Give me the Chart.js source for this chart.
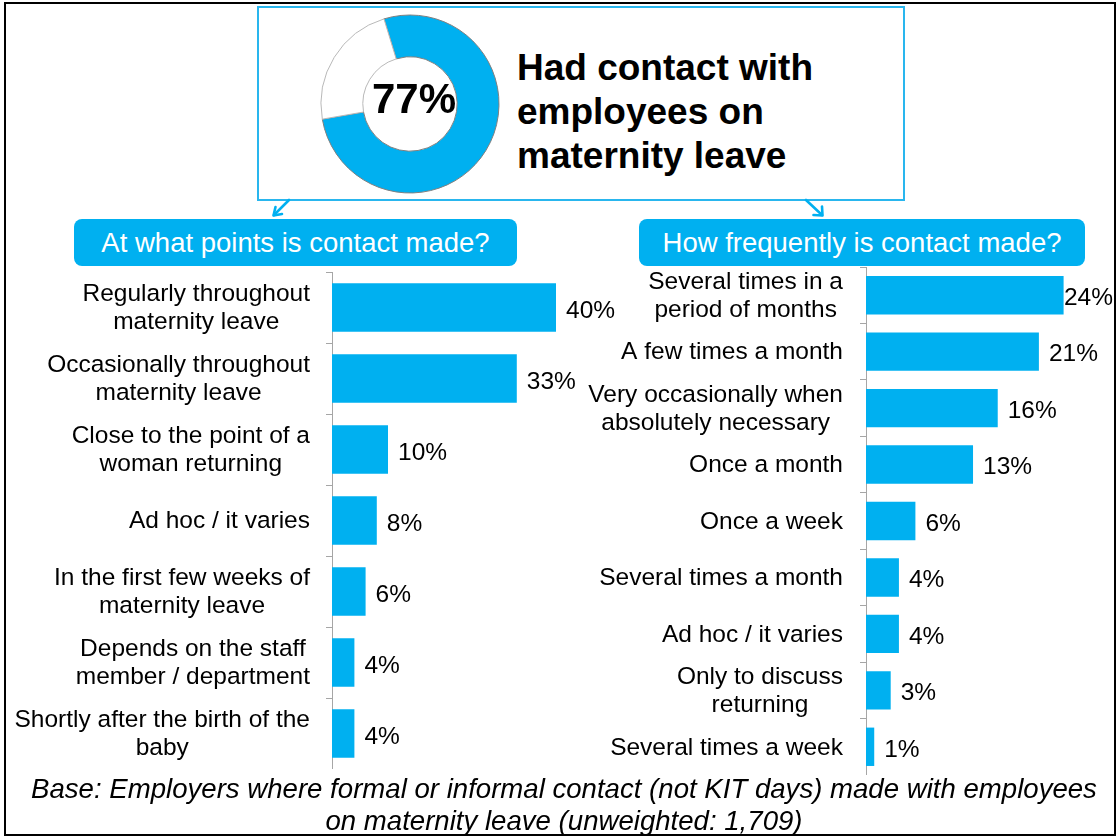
<!DOCTYPE html>
<html>
<head>
<meta charset="utf-8">
<script src="https://cdn.jsdelivr.net/npm/chart.js@4.4.1/dist/chart.umd.min.js"></script>
<style>
html,body{margin:0;padding:0;background:#fff;}
body{width:1117px;height:837px;position:relative;overflow:hidden;font-family:"Liberation Sans",Arial,sans-serif;color:#000;}
.abs{position:absolute;}
#frame{left:4px;top:2px;width:1112px;height:834px;border:2px solid #000;box-sizing:border-box;}
#topbox{left:257px;top:6px;width:648px;height:195px;border:2px solid #29b6ee;box-sizing:border-box;}
#title{left:517px;top:46px;font-weight:bold;font-size:37px;line-height:44px;white-space:nowrap;}
.hdr{top:219px;height:47px;line-height:47px;background:#00B0F0;color:#fff;font-size:27.5px;text-align:center;border-radius:8px;white-space:nowrap;}
#foot{left:8px;top:773px;width:1112px;text-align:center;font-style:italic;font-size:27.6px;line-height:32px;white-space:nowrap;}
canvas{position:absolute;}
</style>
</head>
<body>
<div id="frame" class="abs"></div>
<div id="topbox" class="abs"></div>
<svg class="abs" style="left:0;top:0" width="1117" height="837">
  <g stroke="#00B0F0" stroke-width="2.6" fill="none" stroke-linecap="round" stroke-linejoin="round">
    <line x1="289" y1="200" x2="274" y2="215"/>
    <polyline points="275.5,207 273.5,215.5 282,214"/>
    <line x1="806" y1="200" x2="822" y2="215"/>
    <polyline points="822,206.5 822.5,215.5 813.5,215"/>
  </g>
</svg>
<div id="title" class="abs">Had contact with<br>employees on<br>maternity leave</div>
<div id="hdrLeft" class="abs hdr" style="left:74px;width:443px;">At what points is contact made?</div>
<div id="hdrRight" class="abs hdr" style="left:639px;width:446px;">How frequently is contact made?</div>
<canvas id="donut" width="200" height="200" style="left:310px;top:4px;"></canvas>
<canvas id="points" width="620" height="497" style="left:0px;top:272px;"></canvas>
<canvas id="freq" width="557" height="508" style="left:560px;top:267px;"></canvas>
<div id="foot" class="abs">Base: Employers where formal or informal contact (not KIT days) made with employees<br>on maternity leave (unweighted: 1,709)</div>

<script>
// ---- data ----
const donutLabels = ['Had contact', 'No contact'];
const donutValues = [77, 23];

const pointsCategories = [
  ['Regularly throughout', 'maternity leave'],
  ['Occasionally throughout', 'maternity leave'],
  ['Close to the point of a', 'woman returning'],
  'Ad hoc / it varies',
  ['In the first few weeks of', 'maternity leave'],
  ['Depends on the staff', 'member / department'],
  ['Shortly after the birth of the', 'baby']
];
const pointsValues = [40, 33, 10, 8, 6, 4, 4];

const freqCategories = [
  ['Several times in a', 'period of months'],
  'A few times a month',
  ['Very occasionally when', 'absolutely necessary'],
  'Once a month',
  'Once a week',
  'Several times a month',
  'Ad hoc / it varies',
  ['Only to discuss', 'returning'],
  'Several times a week'
];
const freqValues = [24, 21, 16, 13, 6, 4, 4, 3, 1];

// ---- styling ----
const BLUE = '#00B0F0';
const FONT = '"Liberation Sans", Arial, sans-serif';

const catLabelPlugin = {
  id: 'catLabels',
  afterDraw(chart, args, opts) {
    const ctx = chart.ctx, ys = chart.scales.y;
    ctx.save();
    ctx.font = opts.font;
    ctx.fillStyle = '#000';
    ctx.textAlign = 'center';
    ctx.textBaseline = 'middle';
    chart.data.labels.forEach((lab, i) => {
      const lines = Array.isArray(lab) ? lab : [lab];
      const w = Math.max(...lines.map(l => ctx.measureText(l).width));
      const right = ys.right - opts.gap;
      const cx = right - w / 2;
      const cy = ys.getPixelForTick(i);
      lines.forEach((l, j) => ctx.fillText(l, cx, cy + (j - (lines.length - 1) / 2) * opts.lineHeight + 1));
    });
    ctx.restore();
  }
};

const valueLabelPlugin = {
  id: 'valueLabels',
  afterDatasetsDraw(chart, args, opts) {
    const ctx = chart.ctx;
    const meta = chart.getDatasetMeta(0);
    const data = chart.data.datasets[0].data;
    ctx.save();
    ctx.font = opts.font;
    ctx.fillStyle = '#000';
    ctx.textAlign = 'left';
    ctx.textBaseline = 'middle';
    meta.data.forEach((bar, i) => {
      const txt = data[i] + '%';
      const w = ctx.measureText(txt).width;
      const x = Math.min(bar.x + opts.gap, chart.width - w - opts.edge);
      ctx.fillText(txt, x, bar.y + opts.dy);
    });
    ctx.restore();
  }
};

const centerTextPlugin = {
  id: 'centerText',
  afterDatasetsDraw(chart, args, opts) {
    const ctx = chart.ctx;
    const arc = chart.getDatasetMeta(0).data[0];
    ctx.save();
    ctx.font = 'bold 42px ' + FONT;
    ctx.fillStyle = '#000';
    ctx.textAlign = 'center';
    ctx.textBaseline = 'middle';
    ctx.fillText(chart.data.datasets[0].data[0] + '%', arc.x + 4, arc.y - 3);
    ctx.restore();
  }
};

new Chart(document.getElementById('donut'), {
  type: 'doughnut',
  data: {
    labels: donutLabels,
    datasets: [{
      data: donutValues,
      backgroundColor: [BLUE, '#ffffff'],
      borderColor: ['#808080', '#b8b8b8'],
      borderWidth: 1
    }]
  },
  options: {
    responsive: false,
    animation: false,
    devicePixelRatio: 1,
    radius: 89,
    cutout: '53%',
    rotation: -17,
    plugins: { legend: { display: false }, tooltip: { enabled: false } }
  },
  plugins: [centerTextPlugin]
});

function makeBar(id, cats, vals, axisWidth, xMax, padRight, gap, dy) {
  return new Chart(document.getElementById(id), {
    type: 'bar',
    data: {
      labels: cats,
      datasets: [{
        data: vals,
        backgroundColor: BLUE,
        borderWidth: 0,
        categoryPercentage: 1,
        barPercentage: 0.68
      }]
    },
    options: {
      indexAxis: 'y',
      responsive: false,
      animation: false,
      devicePixelRatio: 1,
      layout: { padding: { left: 0, right: padRight, top: 0, bottom: 0 } },
      scales: {
        x: { display: false, min: 0, max: xMax },
        y: {
          grid: { display: true, drawOnChartArea: false, drawTicks: true, tickLength: 6, color: '#a6a6a6', offset: true },
          border: { display: true, color: '#a6a6a6', width: 1 },
          ticks: { display: false },
          afterFit: s => { s.width = axisWidth; }
        }
      },
      plugins: {
        legend: { display: false },
        tooltip: { enabled: false },
        catLabels: { font: '24.5px ' + FONT, gap: gap, lineHeight: 28 },
        valueLabels: { font: '24.5px ' + FONT, gap: 10, edge: 4, dy: dy }
      }
    },
    plugins: [catLabelPlugin, valueLabelPlugin]
  });
}

makeBar('points', pointsCategories, pointsValues, 332, 50, 8, 22, 4);
makeBar('freq', freqCategories, freqValues, 306, 30, 4, 23, 3);
</script>
</body>
</html>
